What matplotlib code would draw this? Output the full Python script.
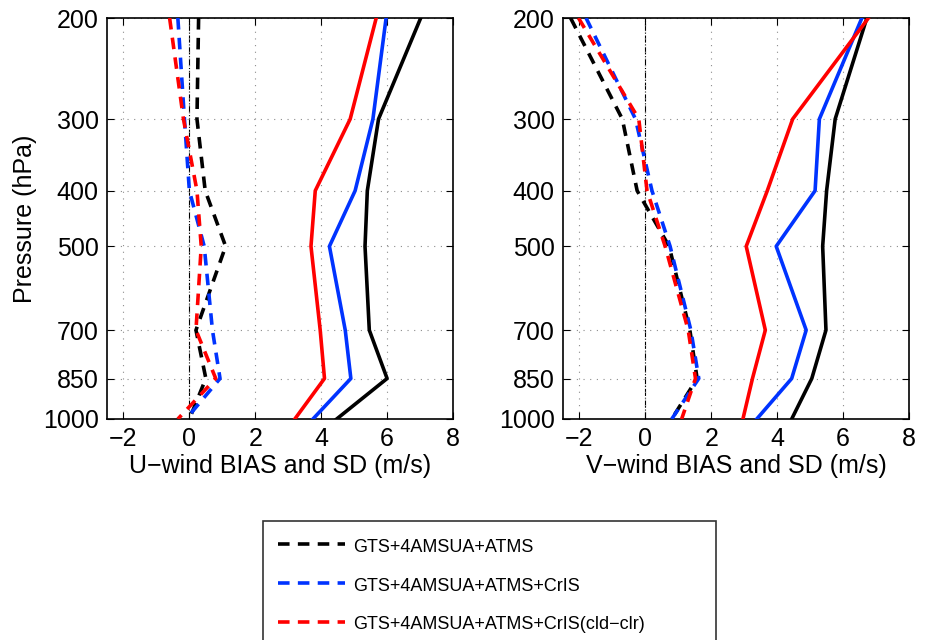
import numpy as np
import matplotlib
matplotlib.use("Agg")
import matplotlib.pyplot as plt
from matplotlib.ticker import NullLocator, FixedLocator

plt.rcParams['font.family'] = ['Liberation Sans', 'DejaVu Sans']

levels = [200, 300, 400, 500, 700, 850, 1000]
names = ['GTS+4AMSUA+ATMS', 'GTS+4AMSUA+ATMS+CrIS', 'GTS+4AMSUA+ATMS+CrIS(cld\u2212clr)']
colors = ['black', '#0033ff', '#ff0000']

# U-wind
u_bias_ctl = [0.28, 0.23, 0.48, 1.1, 0.2, 0.5, 0.0]
u_bias_cris = [-0.35, -0.15, 0.0, 0.45, 0.7, 0.93, -0.1]
u_bias_cld = [-0.6, -0.18, 0.23, 0.36, 0.2, 0.8, -0.35]
u_sd_ctl = [7.02, 5.74, 5.4, 5.33, 5.46, 6.0, 4.47]
u_sd_cris = [5.97, 5.57, 5.03, 4.25, 4.73, 4.9, 3.75]
u_sd_cld = [5.67, 4.88, 3.82, 3.69, 3.97, 4.1, 3.2]

# V-wind
v_bias_ctl = [-2.27, -0.7, -0.25, 0.72, 1.35, 1.57, 0.8]
v_bias_cris = [-1.8, -0.3, 0.2, 0.75, 1.38, 1.62, 0.8]
v_bias_cld = [-2.03, -0.2, 0.05, 0.6, 1.3, 1.52, 1.1]
v_sd_ctl = [6.72, 5.76, 5.5, 5.38, 5.48, 5.05, 4.44]
v_sd_cris = [6.57, 5.28, 5.15, 3.97, 4.88, 4.44, 3.38]
v_sd_cld = [6.77, 4.47, 3.7, 3.06, 3.64, 3.25, 2.96]

xticks = [-2, 0, 2, 4, 6, 8]

W, H = 925, 640
fig = plt.figure(figsize=(W / 100, H / 100), dpi=100)
ax_u = fig.add_axes([107 / W, 1 - 419 / H, 346 / W, 401 / H])
ax_v = fig.add_axes([563 / W, 1 - 419 / H, 346 / W, 401 / H])

panels = [
    (ax_u, [u_bias_ctl, u_bias_cris, u_bias_cld], [u_sd_ctl, u_sd_cris, u_sd_cld], 'U\u2212wind BIAS and SD (m/s)'),
    (ax_v, [v_bias_ctl, v_bias_cris, v_bias_cld], [v_sd_ctl, v_sd_cris, v_sd_cld], 'V\u2212wind BIAS and SD (m/s)'),
]

handles = []
for ax, biases, sds, xlabel in panels:
    ax.axvline(0, color='k', lw=0.8, ls='-.', zorder=1)
    for i, (b, s) in enumerate(zip(biases, sds)):
        h, = ax.plot(b, levels, color=colors[i], lw=2.6, dashes=(3.2, 2.3), zorder=3 + i)
        ax.plot(s, levels, color=colors[i], lw=2.6, ls='-', zorder=3 + i)
        if ax is ax_u:
            handles.append(h)
    ax.set_yscale('log')
    ax.set_ylim(1000, 200)
    ax.set_xlim(-2.5, 8)
    ax.yaxis.set_major_locator(FixedLocator(levels))
    ax.yaxis.set_minor_locator(NullLocator())
    ax.set_yticklabels([str(l) for l in levels])
    ax.set_xticks(xticks)
    ax.grid(True, color='0.55', lw=0.8, ls=(0, (1, 5)))
    ax.tick_params(direction='in', top=True, right=True, length=5, width=0.8,
                   labelsize=18, pad=6)
    ax.tick_params(axis='y', which='minor', length=0)
    ax.set_xlabel(xlabel, fontsize=18, labelpad=2)
    for sp in ax.spines.values():
        sp.set_linewidth(1.2)

ax_u.set_ylabel('Pressure (hPa)', fontsize=18, labelpad=4)

# legend box runs off the bottom edge like in the original
fig.legend(handles, names, loc='upper left',
           bbox_to_anchor=(263 / W, 1 - 521 / H - 0.01, 453 / W, 0.01), mode='expand',
           fontsize=13, frameon=True, fancybox=False, edgecolor='k',
           handlelength=3.7, handleheight=1.2, handletextpad=0.45,
           labelspacing=1.08, borderpad=0.85, borderaxespad=0)
leg = fig.legends[0]
leg.get_frame().set_linewidth(1.2)

fig.savefig('out.png', dpi=100)
